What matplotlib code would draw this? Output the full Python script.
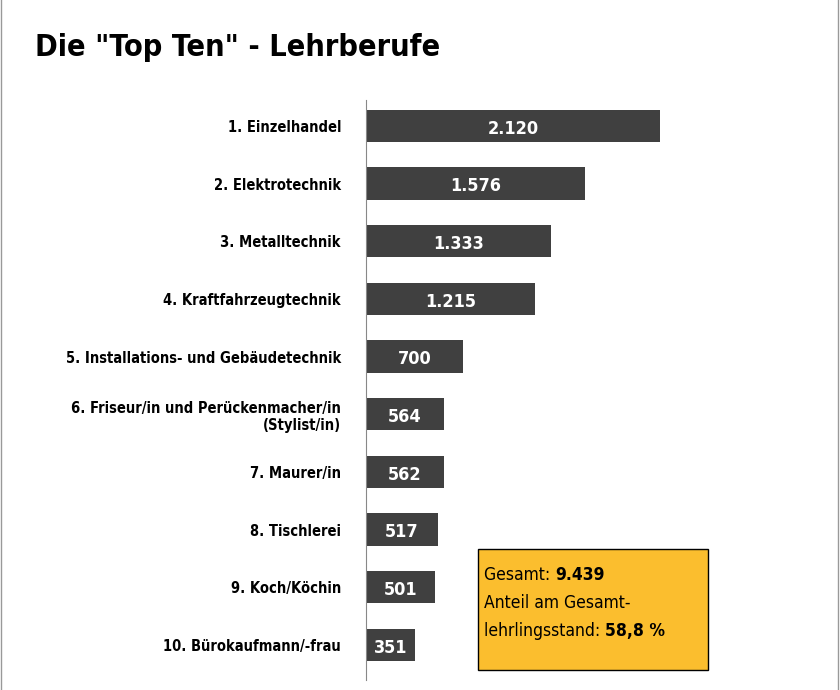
import matplotlib.pyplot as plt
from matplotlib.patches import Rectangle

# data
berufe = ["1. Einzelhandel", "2. Elektrotechnik", "3. Metalltechnik",
          "4. Kraftfahrzeugtechnik", "5. Installations- und Gebäudetechnik",
          "6. Friseur/in und Perückenmacher/in\n(Stylist/in)", "7. Maurer/in",
          "8. Tischlerei", "9. Koch/Köchin", "10. Bürokaufmann/-frau"]
werte = [2120, 1576, 1333, 1215, 700, 564, 562, 517, 501, 351]
wert_labels = ["2.120", "1.576", "1.333", "1.215", "700", "564", "562", "517", "501", "351"]

plt.rcParams["font.family"] = "DejaVu Sans"
plt.rcParams["font.stretch"] = "condensed"

fig = plt.figure(figsize=(8.4, 6.9), dpi=100)
ax = fig.add_axes([366/840, 10/690, 474/840, 580/690])

y = list(range(len(werte)))
ax.barh(y, werte, height=0.56, color="#404040")
ax.set_ylim(9.61, -0.45)
ax.set_xlim(0, 474/0.1387)
for yi, v, lab in zip(y, werte, wert_labels):
    ax.text(v/2, yi + 0.05, lab, color="white", fontsize=13, fontweight="bold",
            ha="center", va="center")
ax.set_yticks(y)
ax.set_yticklabels(berufe, fontsize=10.5, fontweight="bold")
ax.tick_params(axis="y", length=0, pad=18)
ax.set_xticks([])
for s in ["top", "right", "bottom"]:
    ax.spines[s].set_visible(False)
ax.spines["left"].set_color("#888888")

fig.text(35/840, 1 - 48/690, 'Die "Top Ten" - Lehrberufe', fontsize=22,
         fontweight="bold", va="center", ha="left")

# info box
fig.patches.append(Rectangle((478/840, 1 - 670/690), 230/840, 121/690,
                             transform=fig.transFigure, facecolor="#FBBE2E",
                             edgecolor="black", linewidth=1))
renderer = fig.canvas.get_renderer()


def zwei_teile(x, yy, normal, fett):
    t = fig.text(x, yy, normal, fontsize=12.5, va="center")
    bb = t.get_window_extent(renderer)
    if fett:
        fig.text(bb.x1 / fig.bbox.width, yy, fett, fontsize=12.5,
                 fontweight="bold", va="center")


zwei_teile(484/840, 1 - 575/690, "Gesamt: ", "9.439")
zwei_teile(484/840, 1 - 603/690, "Anteil am Gesamt-", None)
zwei_teile(484/840, 1 - 631/690, "lehrlingsstand: ", "58,8 %")

# page borders
fig.add_artist(plt.Line2D([0.001, 0.001], [0, 1], color="#999999", lw=1))
fig.add_artist(plt.Line2D([0.998, 0.998], [0, 1], color="#999999", lw=1))

fig.savefig("out.png", dpi=100)
